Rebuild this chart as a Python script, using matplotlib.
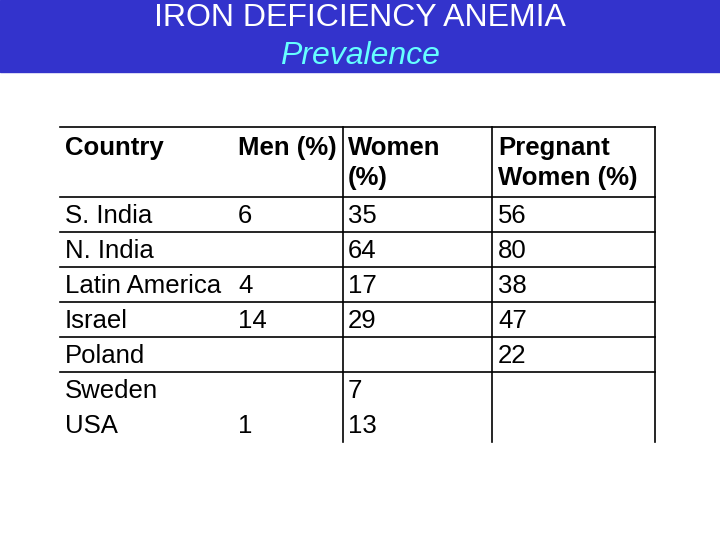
import matplotlib
matplotlib.use("Agg")
import matplotlib.pyplot as plt
from matplotlib.patches import Rectangle

title = "IRON DEFICIENCY ANEMIA"
subtitle = "Prevalence"
headers = [["Country"], ["Men (%)"], ["Women", "(%)"], ["Pregnant", "Women (%)"]]
countries = ["S. India", "N. India", "Latin America", "Israel", "Poland", "Sweden", "USA"]
men = [6, None, 4, 14, None, None, 1]
women = [35, 64, 17, 29, None, 7, 13]
pregnant = [56, 80, 38, 47, 22, None, None]

W, H = 720, 540
fig = plt.figure(figsize=(7.2, 5.4), dpi=100)
ax = fig.add_axes([0, 0, 1, 1])
ax.set_xlim(0, W)
ax.set_ylim(H, 0)
ax.axis("off")

FONT = "Liberation Sans"
# header band
ax.add_patch(Rectangle((0, 0), W, 72, color="#3333CC", zorder=0))
ax.text(360, 18, title, ha="center", va="center", color="white",
        fontsize=23, family=FONT)
ax.text(360, 56, subtitle, ha="center", va="center", color="#66FFFF",
        fontsize=23, family=FONT, style="italic")

# table geometry
col_x = [65, 238, 348, 498]
x_left, x_right = 60, 655
v_lines = [343, 492, 655]
y_top, y_head = 127, 197
row_h = 35
y_bottom = 442
lc = "black"
lw = 1.2

ax.plot([x_left, x_right], [y_top, y_top], color=lc, lw=lw)
ax.plot([x_left, x_right], [y_head, y_head], color=lc, lw=lw)
for i in range(1, 6):
    y = y_head + i * row_h
    ax.plot([x_left, x_right], [y, y], color=lc, lw=lw)
for x in v_lines:
    ax.plot([x, x], [y_top, y_bottom], color=lc, lw=lw)

fs = 18.5
for j, h in enumerate(headers):
    for k, line in enumerate(h):
        ax.text(col_x[j], 148 + 30 * k, line, ha="left", va="center",
                fontsize=fs, family=FONT, weight="bold", color="black")

cols = [countries, men, women, pregnant]
for i in range(len(countries)):
    yc = y_head + row_h * i + 19
    for j, col in enumerate(cols):
        v = col[i]
        if v is None:
            continue
        ax.text(col_x[j], yc, str(v), ha="left", va="center",
                fontsize=fs, family=FONT, color="black")

fig.savefig("out.png", dpi=100)
